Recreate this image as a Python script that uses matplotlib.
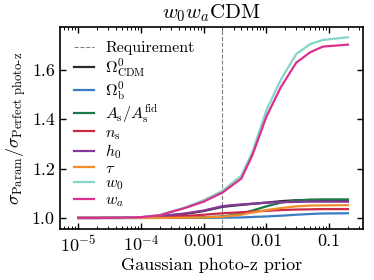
import numpy as np
import matplotlib
matplotlib.use('Agg')
import matplotlib.pyplot as plt
from matplotlib.ticker import FixedLocator, FuncFormatter, LogLocator, NullFormatter

plt.rcParams['font.family'] = 'serif'
plt.rcParams['font.serif'] = ['cmr10', 'DejaVu Serif']
plt.rcParams['mathtext.fontset'] = 'cm'
plt.rcParams['axes.unicode_minus'] = False
plt.rcParams['axes.formatter.use_mathtext'] = True

# photo-z prior widths and sigma ratios
prior = [1e-5, 2e-5, 5e-5, 1e-4, 2e-4, 5e-4, 1e-3, 2e-3, 4e-3, 6e-3,
         0.01, 0.017, 0.03, 0.05, 0.08, 0.2]
requirement = 0.002

omega_cdm = [1.000, 1.000, 1.001, 1.002, 1.007, 1.016, 1.028, 1.045, 1.053, 1.057,
             1.062, 1.068, 1.072, 1.073, 1.073, 1.073]
omega_b = [1.000, 1.000, 1.000, 1.000, 1.000, 1.000, 1.000, 1.001, 1.002, 1.004,
           1.006, 1.009, 1.013, 1.016, 1.018, 1.019]
a_s = [1.000, 1.000, 1.000, 1.000, 1.001, 1.002, 1.003, 1.006, 1.017, 1.030,
       1.047, 1.062, 1.071, 1.074, 1.075, 1.075]
n_s = [1.000, 1.000, 1.000, 1.001, 1.003, 1.008, 1.013, 1.019, 1.023, 1.026,
       1.029, 1.032, 1.034, 1.035, 1.036, 1.036]
h0 = [1.000, 1.000, 1.001, 1.003, 1.008, 1.018, 1.030, 1.048, 1.055, 1.058,
      1.062, 1.064, 1.065, 1.066, 1.066, 1.066]
tau = [1.000, 1.000, 1.000, 1.000, 1.000, 1.001, 1.002, 1.005, 1.013, 1.022,
       1.032, 1.040, 1.047, 1.050, 1.051, 1.052]
w0 = [1.000, 1.000, 1.001, 1.003, 1.012, 1.042, 1.072, 1.110, 1.172, 1.268,
      1.436, 1.560, 1.665, 1.705, 1.722, 1.733]
wa = [1.000, 1.000, 1.001, 1.003, 1.011, 1.040, 1.066, 1.103, 1.160, 1.255,
      1.410, 1.530, 1.630, 1.672, 1.695, 1.703]

series = [
    (omega_cdm, r'$\Omega^0_{\rm CDM}$', '#2b2b2b'),
    (omega_b, r'$\Omega^0_{\rm b}$', '#3b7cc4'),
    (a_s, r'$A_{\rm s}/A_{\rm s}^{\rm fid}$', '#1a7a48'),
    (n_s, r'$n_{\rm s}$', '#cc2948'),
    (h0, r'$h_0$', '#86379a'),
    (tau, r'$\tau$', '#f28e2b'),
    (w0, r'$w_0$', '#84d6c6'),
    (wa, r'$w_a$', '#d92f8f'),
]

my_dpi = 100
fig = plt.figure(figsize=(374/my_dpi, 280/my_dpi), dpi=my_dpi)
ax = fig.add_axes([0.160, 0.182, 0.811, 0.722])

ax.axvline(requirement, color='grey', ls='--', lw=0.8, label='Requirement')
for vals, lab, col in series:
    ax.plot(prior, vals, color=col, lw=1.6, label=lab)

ax.set_xscale('log')
ax.set_xlim(5.1e-6, 0.35)
ax.set_ylim(0.955, 1.775)

ax.xaxis.set_major_locator(FixedLocator([1e-5, 1e-4, 1e-3, 1e-2, 1e-1]))
labels = {1e-5: r'$10^{-5}$', 1e-4: r'$10^{-4}$', 1e-3: '0.001', 1e-2: '0.01', 1e-1: '0.1'}
ax.xaxis.set_major_formatter(FuncFormatter(
    lambda v, p: min(labels.items(), key=lambda kv: abs(np.log10(kv[0]) - np.log10(v)))[1]))
ax.xaxis.set_minor_locator(LogLocator(base=10, subs=np.arange(2, 10), numticks=20))
ax.xaxis.set_minor_formatter(NullFormatter())
ax.set_yticks([1.0, 1.2, 1.4, 1.6])
ax.set_yticklabels(['1.0', '1.2', '1.4', '1.6'])

ax.tick_params(which='both', direction='in', top=True, right=True, labelsize=13)
ax.tick_params(which='major', length=4, width=1)
ax.tick_params(which='minor', length=2, width=0.7)
for s in ax.spines.values():
    s.set_linewidth(1.2)

ax.set_xlabel('Gaussian photo-z prior', fontsize=13, labelpad=2)
ax.set_ylabel(r'$\sigma_{\rm Param}/\sigma_{\rm Perfect\ photo\text{-}z}$', fontsize=13, labelpad=3)
ax.set_title(r'$w_0w_a$CDM', fontsize=15, pad=6)

ax.legend(loc='upper left', frameon=False, fontsize=11.5, handlelength=1.25,
          labelspacing=0.04, borderaxespad=0.5, handletextpad=0.7)

fig.savefig('out.png', dpi=my_dpi)
